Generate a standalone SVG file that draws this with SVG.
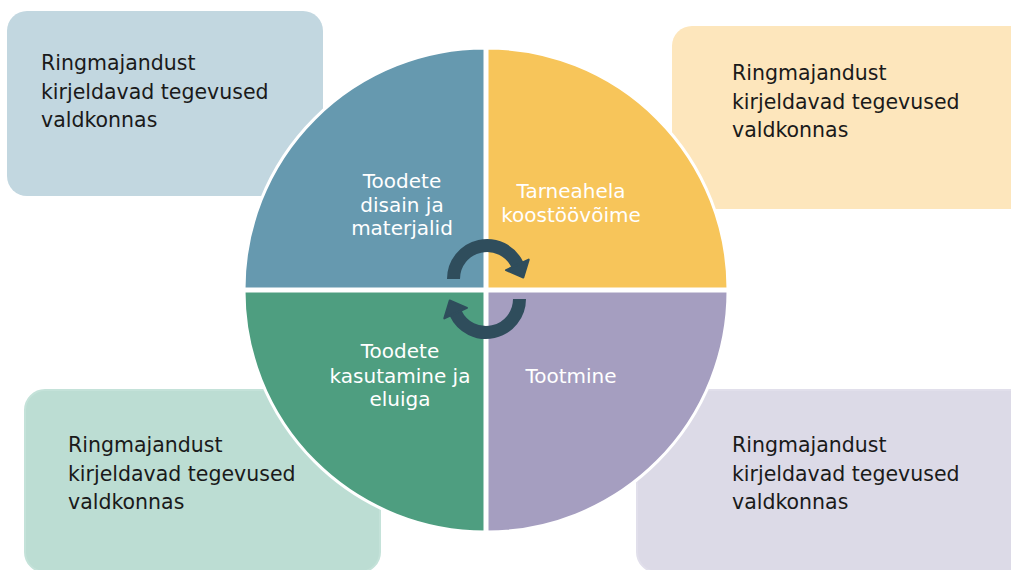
<svg xmlns="http://www.w3.org/2000/svg" width="1011" height="570" viewBox="0 0 1011 570">
  <style>
    .box-text { font-family: "DejaVu Sans", "Liberation Sans", sans-serif; font-size: 20.5px; fill: #1a1a1a; }
    .q-text { font-family: "DejaVu Sans", "Liberation Sans", sans-serif; font-size: 20px; fill: #ffffff; text-anchor: middle; }
    .quad { stroke: #ffffff; stroke-width: 3; }
    .arrow-body { fill: none; stroke: #2f4d5c; stroke-width: 13; }
    .arrow-head { fill: #2f4d5c; stroke: #2f4d5c; stroke-width: 2; stroke-linejoin: round; }
  </style>
  <defs>
    <g id="arrow">
      <path class="arrow-body" d="M453.5,279 A33.5,33.5 0 0 1 517.36,264.84"/>
      <polygon class="arrow-head" points="506,270.1 528.7,259.6 523.3,277.5"/>
    </g>
  </defs>
  <rect width="1011" height="570" fill="#ffffff"/>

  <g id="box-tl">
    <rect x="7" y="11" width="316" height="185" rx="20" fill="#c2d7e0"/>
    <text class="box-text"><tspan x="41" y="70">Ringmajandust</tspan><tspan x="41" y="98.5">kirjeldavad tegevused</tspan><tspan x="41" y="127">valdkonnas</tspan></text>
  </g>
  <g id="box-tr">
    <rect x="672" y="26" width="370" height="183" rx="20" fill="#fde6bc"/>
    <text class="box-text"><tspan x="732" y="80">Ringmajandust</tspan><tspan x="732" y="108.5">kirjeldavad tegevused</tspan><tspan x="732" y="137">valdkonnas</tspan></text>
  </g>
  <g id="box-bl">
    <rect x="25" y="390" width="355" height="182" rx="20" fill="#bcddd3" stroke="#c4e2d9" stroke-width="2"/>
    <text class="box-text"><tspan x="68" y="452">Ringmajandust</tspan><tspan x="68" y="480.5">kirjeldavad tegevused</tspan><tspan x="68" y="509">valdkonnas</tspan></text>
  </g>
  <g id="box-br">
    <rect x="637" y="390" width="400" height="182" rx="20" fill="#dcdae7" stroke="#e1dfeb" stroke-width="2"/>
    <text class="box-text"><tspan x="732" y="452">Ringmajandust</tspan><tspan x="732" y="480.5">kirjeldavad tegevused</tspan><tspan x="732" y="509">valdkonnas</tspan></text>
  </g>

  <g id="quad-tl">
    <path class="quad" fill="#6699af" d="M485,289 L244,289 A241,241 0 0 1 485,48 Z"/>
    <text class="q-text"><tspan x="402" y="188">Toodete</tspan><tspan x="402" y="212">disain ja</tspan><tspan x="402" y="235">materjalid</tspan></text>
  </g>
  <g id="quad-tr">
    <path class="quad" fill="#f7c55a" d="M487,289 L487,48 A241,241 0 0 1 728,289 Z"/>
    <text class="q-text"><tspan x="571" y="198">Tarneahela</tspan><tspan x="571" y="222">koostöövõime</tspan></text>
  </g>
  <g id="quad-bl">
    <path class="quad" fill="#4e9e80" d="M485,291 L485,532 A241,241 0 0 1 244,291 Z"/>
    <text class="q-text"><tspan x="400" y="358">Toodete</tspan><tspan x="400" y="383">kasutamine ja</tspan><tspan x="400" y="406">eluiga</tspan></text>
  </g>
  <g id="quad-br">
    <path class="quad" fill="#a59ec0" d="M487,291 L728,291 A241,241 0 0 1 487,532 Z"/>
    <text class="q-text"><tspan x="571" y="383">Tootmine</tspan></text>
  </g>

  <g id="connectors">
    <use href="#arrow"/>
    <use href="#arrow" transform="rotate(180 486.5 289)"/>
  </g>
</svg>
